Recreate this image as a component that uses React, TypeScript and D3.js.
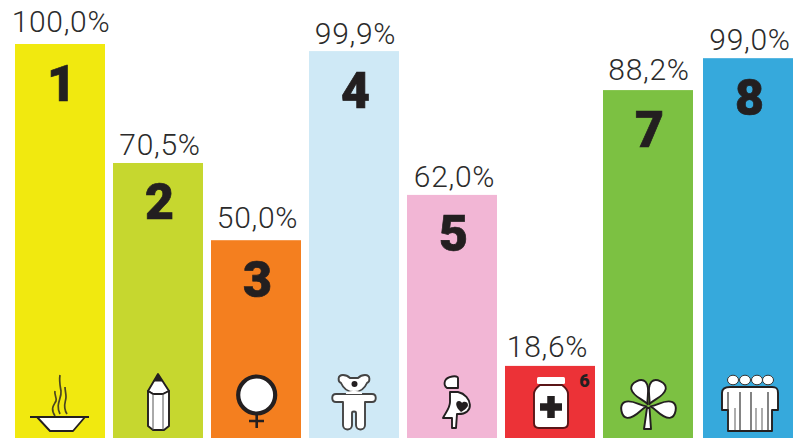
import React from "react";
import * as d3 from "d3";

const categories = ["1", "2", "3", "4", "5", "6", "7", "8"];
const labels = ["100,0%", "70,5%", "50,0%", "99,9%", "62,0%", "18,6%", "88,2%", "99,0%"];
// bar heights as drawn in the picture (percent of the tallest bar)
const drawnValues = [100, 69.8, 50.2, 98.2, 61.7, 18.3, 88.3, 96.4];
const colors = ["#f1e90f", "#c6d72f", "#f47f1f", "#cfe9f6", "#f2b6d5", "#ec3237", "#7cc142", "#36a9dc"];
const labelGap = [12, 8, 12, 7, 8, 9, 10, 8];
const labelShift = [0, 1, 0.5, 0.5, 1.5, -3.5, 0, 1];

const W = 799, H = 438;
const INK = "#231f20";

const step = 98;
const xPos = (c: string) => 15 + categories.indexOf(c) * step + (c === "8" ? 2 : 0);
const y = d3.scaleLinear().domain([0, 100]).range([H, 44]);

const base = { fill: "#fff", stroke: INK, strokeWidth: 1.9, strokeLinejoin: "round" as const };

const Bowl = () => (
  <g>
    <g fill="none" stroke="#4a4520" strokeWidth={1.7}>
      <path d="M-5,-22 C-10,-30 -6,-33 -4,-37 C-3,-41 -6,-43 -5,-47" />
      <path d="M0,-24 C-5,-34 2,-40 1,-47 C0,-53 -1,-57 0,-63" />
      <path d="M7,-24 C2,-32 6,-36 6,-41 C6,-45 5,-48 5,-51" />
    </g>
    <path d="M-23,-21 L-10,-7 H13 L25,-21 Z" {...base} />
    <path d="M-30,-21 H29" stroke={INK} strokeWidth={1.9} />
  </g>
);
const Pencil = () => (
  <g>
    <path d="M-10,-47 L0,-64 L11,-47 L5,-44 H-5 Z" {...base} />
    <path d="M-4,-57 L0,-64 L4,-57 Z" fill={INK} stroke={INK} />
    <path d="M-10,-47 L-5,-44 H5 L11,-47 V-12 L6,-8 H-5 L-10,-12 Z" {...base} />
    <path d="M-5,-44 V-8 M5,-44 V-8" stroke="#555" strokeWidth={1} />
  </g>
);
const Venus = () => (
  <g>
    <circle cx={0.7} cy={-43} r={18.5} fill="#fff" stroke={INK} strokeWidth={4.2} />
    <path d="M0.7,-23 V-10 M-7,-17 H8" stroke={INK} strokeWidth={2.6} fill="none" />
  </g>
);
const Bear = () => (
  <g>
    <path d="M-11,-63 C-17,-63 -16,-56 -13,-55 C-10,-48 -6,-46 0,-46 C6,-46 10,-48 13,-55 C16,-56 17,-63 11,-63 C8,-63 6,-62 4,-60 H-4 C-6,-62 -8,-63 -11,-63 Z" {...base} stroke="#444" />
    <path d="M-8,-44 H-18 C-23,-44 -23,-36 -18,-36 H-11 V-13 C-11,-7 -2,-7 -2,-13 V-25 C-2,-27 2,-27 2,-25 V-13 C2,-7 11,-7 11,-13 V-36 H18 C23,-36 23,-44 18,-44 H8 Z" {...base} stroke="#444" />
    <path d="M-8,-44 H8 C9,-46 5,-47 0,-47 C-5,-47 -9,-46 -8,-44 Z" fill="#fff" />
    <circle cx={0.5} cy={-54} r={3} fill={INK} />
  </g>
);
const Pregnant = () => (
  <g>
    <path d="M-7,-57 C-5,-62 6,-63 6,-60 V-50 H-5 C-8,-52 -8,-54 -7,-57 Z" {...base} />
    <path d="M-2,-46 H6 C20,-43 24,-23 5,-24 L4,-10 H0 V-20 H-9 C-6,-26 -2,-30 -2,-36 Z" {...base} />
    <path d="M9,-26 C3,-31 3,-37 7,-37 C8.5,-37 9.5,-36 10,-35 C11,-37 16,-37 16,-33 C16,-31 13,-28 9,-26 Z" fill={INK} />
  </g>
);
const Jar = () => (
  <g>
    <rect x={-13} y={-61} width={28} height={7} rx={1.5} fill="#fff" />
    <path d="M-10,-53 H12 C16,-50 18,-48 18,-44 V-15 C18,-12 16,-10 13,-10 H-11 C-14,-10 -16,-12 -16,-15 V-44 C-16,-48 -14,-50 -10,-53 Z" {...base} stroke="#5a1517" />
    <path d="M1,-42 V-20 M-10,-31 H12" stroke={INK} strokeWidth={7.5} fill="none" />
    <text x={34.5} y={-51} fontFamily="Roboto, sans-serif" fontWeight={900} fontSize={18} textAnchor="middle" fill={INK}>6</text>
  </g>
);
const petal = "M0,-2 C-2,-9 -10,-15 -8,-23 C-6,-29 6,-29 8,-23 C10,-15 2,-9 0,-2 Z";
const Clover = () => (
  <g>
    <path d="M-1,-30 H1.5 L3,-9 H-4 Z" {...base} />
    {[-26, 26, -100, 100].map((r) => (
      <path key={r} d={petal} transform={`translate(0.5,-32) rotate(${r})`} {...base} />
    ))}
  </g>
);
const Family = () => (
  <g>
    <path d="M-26,-45 C-26,-50 -22,-51 -18,-51 H24 C28,-51 30,-50 30,-45 V-28 H24 V-7 H-20 V-28 H-26 Z" {...base} />
    {[-15, -3, 9, 20].map((cx) => (
      <ellipse key={cx} cx={cx} cy={-58} rx={5.5} ry={4.8} fill="#fff" stroke="#333" strokeWidth={1} />
    ))}
    <g stroke="#333" strokeWidth={1.2}>
      <path d="M-20,-46 V-8 M-8,-46 V-8 M3,-46 V-8 M20,-46 V-8" />
      <path d="M-13,-30 V-8 M8,-30 V-8 M14,-30 V-8" stroke="#777" />
    </g>
  </g>
);
const icons = [Bowl, Pencil, Venus, Bear, Pregnant, Jar, Clover, Family];

export default function App() {
  return (
    <svg width={W} height={H} viewBox={`0 0 ${W} ${H}`} style={{ position: "absolute", left: 0, top: 0, display: "block" }}>
      <rect width={W} height={H} fill="#fff" />
      {categories.map((c, i) => {
        const X = xPos(c);
        const top = y(drawnValues[i]);
        const cx = X + 45;
        const Icon = icons[i];
        return (
          <g key={c}>
            <rect x={X} y={top} width={90} height={H - top} fill={colors[i]} />
            <text x={cx + 1 + labelShift[i]} y={top - labelGap[i]} textAnchor="middle" fontFamily="Roboto, sans-serif" fontWeight={300} fontSize={30} letterSpacing={0.7} fill="#2b2b2b">
              {labels[i]}
            </text>
            {c !== "6" && (
              <text x={cx + 1.5} y={top + 56.5} textAnchor="middle" fontFamily="Roboto, sans-serif" fontWeight={900} fontSize={50} stroke={INK} strokeWidth={0.7} fill={INK}>
                {c}
              </text>
            )}
            <g transform={`translate(${cx},${H})`}>
              <Icon />
            </g>
          </g>
        );
      })}
    </svg>
  );
}
